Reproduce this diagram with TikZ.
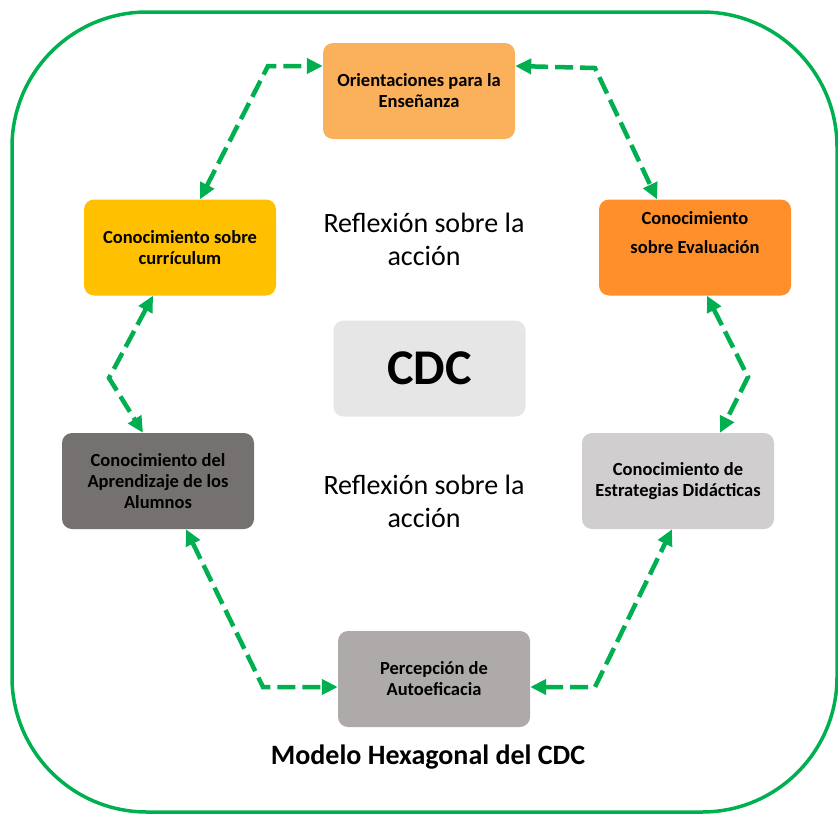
\documentclass[tikz,border=0pt]{standalone}
\usepackage{fontspec}
\setmainfont{Carlito}
\usetikzlibrary{arrows.meta}
\definecolor{frameGreen}{HTML}{00B050}
\definecolor{cOri}{HTML}{FBB05C}
\definecolor{cCur}{HTML}{FFC000}
\definecolor{cEva}{HTML}{FF8F2A}
\definecolor{cCdc}{HTML}{E7E6E6}
\definecolor{cApr}{HTML}{767171}
\definecolor{cEst}{HTML}{D0CECE}
\definecolor{cPer}{HTML}{AEAAAA}
\tikzset{
  kbox/.style={rectangle, rounded corners=10pt, minimum width=192pt, minimum height=96pt,
    inner sep=0pt, align=center,
    font=\fontsize{18.5}{21}\selectfont\bfseries},
  ktext/.style={inner sep=0pt, align=center, font=\fontsize{18.5}{29}\selectfont\bfseries},
  conn/.style={draw=frameGreen, line width=4.5pt, dash pattern=on 18pt off 7pt,
    {Triangle[length=16pt,width=15pt]}-{Triangle[length=16pt,width=15pt]}},
  note/.style={align=center, font=\fontsize{28}{33}\selectfont},
}
\begin{document}
\begin{tikzpicture}[x=1pt,y=-1pt]
\useasboundingbox (0,0) rectangle (838,814);
% outer frame
\draw[frameGreen, line width=3.5pt, rounded corners=135pt] (12,12) rectangle (837,812);

% knowledge boxes
\node[kbox, fill=cOri] (ori) at (419,91) {Orientaciones para la\\Enseñanza};
\node[kbox, fill=cCur] (cur) at (180,247.5) {Conocimiento sobre\\currículum};
\node[kbox, fill=cEva] (eva) at (695,247.5) {};
\node[ktext] (evat) at (695,233) {Conocimiento\\sobre Evaluación};
\node[kbox, fill=cApr] (apr) at (158,481) {Conocimiento del\\Aprendizaje de los\\Alumnos};
\node[kbox, fill=cEst] (est) at (678,481) {Conocimiento de\\Estrategias Didácticas};
\node[kbox, fill=cPer] (per) at (434,679) {Percepción de\\Autoeficacia};
\node[kbox, fill=cCdc, font=\fontsize{50}{56}\selectfont\bfseries] (cdc) at (429.5,368.5) {CDC};

% captions
\node[note] (r1) at (424,239) {Reflexión sobre la\\acción};
\node[note] (r2) at (424,501) {Reflexión sobre la\\acción};
\node[font=\fontsize{28}{32}\selectfont\bfseries] (title) at (428,757) {Modelo Hexagonal del CDC};

% bend points of the connectors
\coordinate (k1) at (268,66);
\coordinate (k2) at (595,68);
\coordinate (k3) at (748,377);
\coordinate (k4) at (109,378);
\coordinate (k5) at (263,687);
\coordinate (k6) at (595,687);

% connectors
\draw[conn] ([xshift=20pt]cur.north) -- (k1) -- ([yshift=25pt]ori.west);
\draw[conn] ([yshift=25pt]ori.east) -- (k2) -- ([xshift=-38pt]eva.north);
\draw[conn] ([xshift=12pt]eva.south) -- (k3) -- ([xshift=42pt]est.north);
\draw[conn] ([xshift=-27pt]cur.south) -- (k4) -- ([xshift=-15pt]apr.north);
\draw[conn] ([xshift=28pt]apr.south) -- (k5) -- ([yshift=-8pt]per.west);
\draw[conn] ([yshift=-8pt]per.east) -- (k6) -- ([xshift=-6pt]est.south);
\end{tikzpicture}
\end{document}
